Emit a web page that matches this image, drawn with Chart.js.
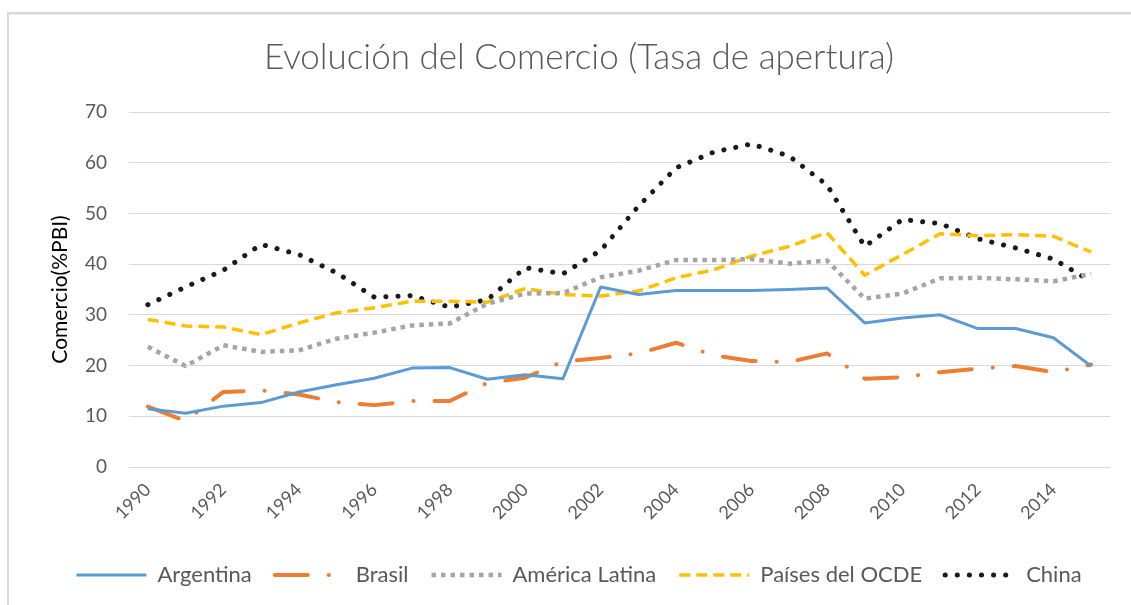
<!DOCTYPE html>
<html>
<head>
<meta charset="utf-8">
<title>Evolución del Comercio</title>
<script src="https://cdn.jsdelivr.net/npm/chart.js@4"></script>
<style>
  html, body { margin: 0; padding: 0; background: #fff; overflow: hidden; }
  #wrap { width: 1131px; height: 605px; }
</style>
</head>
<body>
<div id="wrap"><canvas id="comercio-chart" width="1131" height="605"></canvas></div>
<script>
const years = ["1990", "1991", "1992", "1993", "1994", "1995", "1996", "1997", "1998", "1999", "2000", "2001", "2002",
  "2003", "2004", "2005", "2006", "2007", "2008", "2009", "2010", "2011", "2012", "2013", "2014", "2015"];

const argentina = [11.5, 10.6, 12.0, 12.7, 14.8, 16.2, 17.5, 19.5, 19.6, 17.3, 18.2, 17.4, 35.5,
  34.0, 34.8, 34.8, 34.8, 35.0, 35.3, 28.4, 29.4, 30.0, 27.3, 27.3, 25.5, 19.9];
const brasil = [11.9, 9.1, 14.8, 15.1, 14.3, 12.8, 12.2, 13.0, 13.0, 16.6, 17.6, 20.8, 21.5,
  22.4, 24.5, 22.0, 20.9, 20.7, 22.4, 17.4, 17.7, 18.7, 19.4, 19.9, 18.7, 20.2];
const americaLatina = [23.7, 19.9, 24.0, 22.7, 23.0, 25.3, 26.5, 27.9, 28.3, 32.2, 34.2, 34.3, 37.4,
  38.7, 40.8, 40.8, 41.0, 40.1, 40.7, 33.2, 34.2, 37.2, 37.3, 37.0, 36.6, 38.1];
const ocde = [29.1, 27.8, 27.6, 26.1, 28.4, 30.4, 31.4, 32.7, 32.7, 32.5, 35.2, 34.0, 33.7,
  34.7, 37.3, 38.9, 41.6, 43.5, 46.2, 37.8, 41.9, 46.0, 45.6, 45.8, 45.5, 42.4];
const china = [32.0, 35.5, 38.8, 43.9, 41.9, 38.3, 33.5, 33.8, 31.5, 33.0, 39.3, 38.1, 42.7,
  51.4, 59.0, 62.1, 63.7, 61.3, 55.6, 43.5, 48.8, 48.0, 45.0, 43.2, 41.0, 36.6];

const yTicks = [0, 10, 20, 30, 40, 50, 60, 70];

const textGray = "#595959";
const fontFamily = "Lato, 'Noto Sans', sans-serif";

// excel style frame, only top and left edges are visible in the crop
const framePlugin = {
  id: "frame",
  beforeDraw(chart) {
    const c = chart.ctx;
    c.save();
    c.fillStyle = "#d9d9d9";
    c.fillRect(7, 12, chart.width - 7, 2.5);
    c.fillRect(7, 12, 2, chart.height - 12);
    c.restore();
  },
};

function line(label, data, color, width, dash, cap) {
  return {
    label: label,
    data: data,
    borderColor: color,
    backgroundColor: color,
    borderWidth: width,
    borderDash: dash,
    borderCapStyle: cap,
    borderJoinStyle: "round",
    pointRadius: 0,
    pointHoverRadius: 0,
    tension: 0,
    fill: false,
  };
}

// legend samples should keep the dash pattern of each series
function legendLabels(chart) {
  const items = Chart.defaults.plugins.legend.labels.generateLabels(chart);
  items.forEach((item) => {
    const ds = chart.data.datasets[item.datasetIndex];
    item.lineDash = ds.borderDash;
    item.lineCap = ds.borderCapStyle;
    item.lineWidth = ds.borderWidth;
    item.strokeStyle = ds.borderColor;
  });
  return items;
}

function drawChart() {
  const ctx = document.getElementById("comercio-chart").getContext("2d");

  new Chart(ctx, {
    type: "line",
    plugins: [framePlugin],
    data: {
      labels: years,
      datasets: [
        line("Argentina", argentina, "#5b9bd5", 3, [], "butt"),
        line("Brasil", brasil, "#ed7d31", 4, [33, 21, 0.1, 21], "round"),
        line("América Latina", americaLatina, "#a5a5a5", 4.5, [4.5, 5], "butt"),
        line("Países del OCDE", ocde, "#ffc000", 3.5, [11, 6], "butt"),
        line("China", china, "#1a1a1a", 5, [0.1, 12], "round"),
      ],
    },
    options: {
      responsive: false,
      animation: false,
      layout: { padding: { left: 48, right: 21, top: 0, bottom: 9 } },
      plugins: {
        title: {
          display: true,
          text: "Evolución del Comercio (Tasa de apertura)",
          color: textGray,
          font: { family: fontFamily, size: 35, weight: "300" },
          padding: { top: 37, bottom: 33 },
        },
        legend: {
          position: "bottom",
          labels: {
            usePointStyle: true,
            pointStyle: "line",
            pointStyleWidth: 70,
            color: textGray,
            font: { family: fontFamily, size: 22 },
            padding: 23,
            generateLabels: legendLabels,
          },
        },
        tooltip: { enabled: false },
      },
      scales: {
        x: {
          type: "category",
          offset: true,
          grid: { display: false },
          border: { display: false },
          ticks: {
            autoSkip: false,
            minRotation: 45,
            maxRotation: 45,
            padding: 4,
            color: textGray,
            font: { family: fontFamily, size: 18 },
            callback: function (value, index) {
              return index % 2 === 0 ? years[index] : "";
            },
          },
          afterFit: function (scale) {
            scale.height = 74;
          },
        },
        y: {
          min: yTicks[0],
          max: yTicks[yTicks.length - 1],
          afterBuildTicks: function (scale) {
            scale.ticks = yTicks.map((v) => ({ value: v }));
          },
          grid: { color: "#d9d9d9", lineWidth: 1, drawTicks: false },
          border: { display: false },
          ticks: {
            padding: 22,
            color: textGray,
            font: { family: fontFamily, size: 19 },
          },
          title: {
            display: true,
            text: "Comercio(%PBI)",
            color: "#000000",
            font: { family: fontFamily, size: 21 },
            padding: { top: 0, bottom: 0 },
          },
          afterFit: function (scale) {
            scale.width = 81;
          },
        },
      },
    },
  });
}

drawChart();
</script>
</body>
</html>
